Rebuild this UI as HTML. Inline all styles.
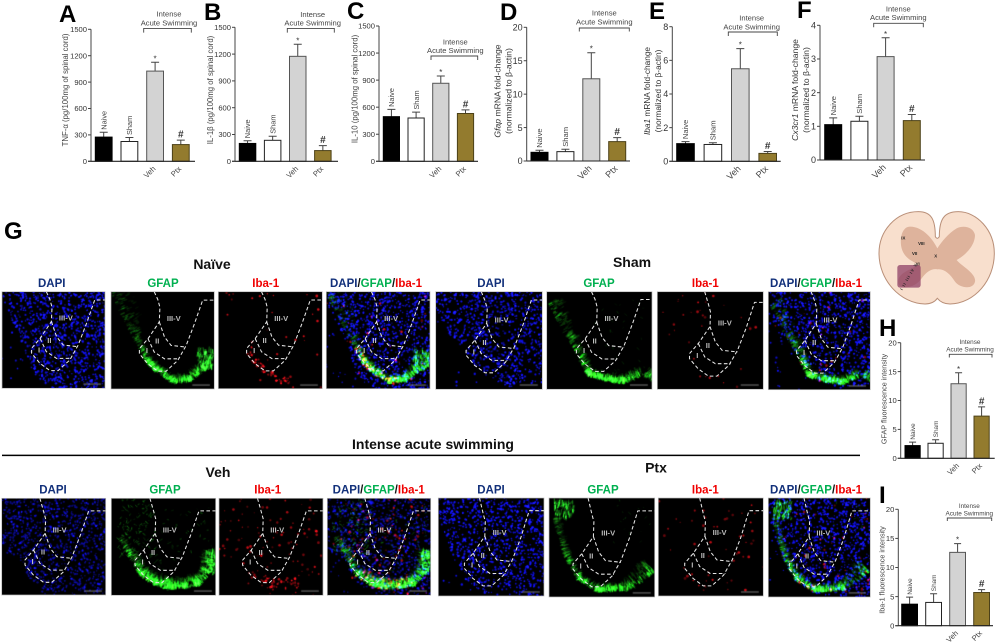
<!DOCTYPE html>
<html lang="en">
<head>
<meta charset="utf-8">
<title>Intense acute swimming figure</title>
<style>
html,body{margin:0;padding:0;background:#fff;}
#figure{position:relative;width:996px;height:643px;overflow:hidden;background:#fff;font-family:"Liberation Sans",sans-serif;}
#micro-layer canvas{position:absolute;display:block;background:#000;filter:blur(.35px);}
#overlay{position:absolute;left:0;top:0;}
.letter{font:bold 24px "Liberation Sans",sans-serif;fill:#000;}
.ytitle{font-size:7.8px;fill:#444;}
.ytitle2{font-size:8.6px;fill:#333;}
.brk{font-size:7.6px;fill:#444;text-anchor:middle;}
.brk-s{font-size:6.4px;fill:#444;text-anchor:middle;}
.chan{font-size:11.5px;font-weight:bold;text-anchor:middle;}
.dapi{fill:#12307a;}.gfap{fill:#00b050;}.iba{fill:#f00000;}.slash{fill:#111;}
.head{font-size:14px;font-weight:bold;fill:#111;text-anchor:middle;}
</style>
</head>
<body>
<div id="figure">
<div id="micro-layer"></div>
<svg id="overlay" width="996" height="643" viewBox="0 0 996 643">
  <g id="letters">
    <text class="letter" x="59" y="22">A</text>
    <text class="letter" x="204" y="20">B</text>
    <text class="letter" x="347" y="19">C</text>
    <text class="letter" x="500" y="20">D</text>
    <text class="letter" x="649" y="19">E</text>
    <text class="letter" x="797" y="18">F</text>
    <text class="letter" x="4" y="239">G</text>
    <text class="letter" x="879" y="336">H</text>
    <text class="letter" x="879" y="503">I</text>
  </g>

  <g id="y-titles">
    <text class="ytitle" text-anchor="middle" transform="translate(68,90) rotate(-90)">TNF-α (pg/100mg of spinal cord)</text>
    <text class="ytitle" text-anchor="middle" transform="translate(213,90) rotate(-90)">IL-1β (pg/100mg of spinal cord)</text>
    <text class="ytitle" text-anchor="middle" transform="translate(357.5,89) rotate(-90)">IL-10 (pg/100mg of spinal cord)</text>
    <text class="ytitle2" text-anchor="middle" transform="translate(500.5,91) rotate(-90)"><tspan font-style="italic">Gfap</tspan> mRNA fold-change</text>
    <text class="ytitle2" text-anchor="middle" transform="translate(511.5,91) rotate(-90)">(normalized to β-actin)</text>
    <text class="ytitle2" style="font-size:8.3px" text-anchor="middle" transform="translate(650,91) rotate(-90)"><tspan font-style="italic">Iba1</tspan> mRNA fold-change</text>
    <text class="ytitle2" style="font-size:8.3px" text-anchor="middle" transform="translate(661,91) rotate(-90)">(normalized to β-actin)</text>
    <text class="ytitle2" text-anchor="middle" transform="translate(798,90) rotate(-90)"><tspan font-style="italic">Cx3cr1</tspan> mRNA fold-change</text>
    <text class="ytitle2" text-anchor="middle" transform="translate(809,90) rotate(-90)">(normalized to β-actin)</text>
    <text class="ytitle" style="font-size:7.2px" text-anchor="middle" transform="translate(886.5,399) rotate(-90)">GFAP  fluorescence intensity</text>
    <text class="ytitle" style="font-size:7.2px" text-anchor="middle" transform="translate(884.5,570) rotate(-90)">Iba-1 fluorescence intensity</text>
  </g>

  <g id="brackets" fill="none" stroke="#444" stroke-width="0.9">
    <path d="M143.7,32.6V28.4H191.3V32.6"/>
    <path d="M287.3,32.6V28.4H334.3V32.6"/>
    <path d="M431,60V56H477.7V60"/>
    <path d="M579.3,31.5V28H629.3V31.5"/>
    <path d="M728.3,36V32H777.3V36"/>
    <path d="M873.7,27.3V23.3H923.3V27.3"/>
    <path d="M949.3,357.5V354.3H992V357.5"/>
    <path d="M947.3,521V518H991.7V521"/>
  </g>
  <g>
    <text class="brk" x="169" y="16.5">Intense</text>
    <text class="brk" x="169" y="25.3">Acute Swimming</text>
    <text class="brk" x="312.7" y="17">Intense</text>
    <text class="brk" x="312.7" y="25.6">Acute Swimming</text>
    <text class="brk" x="455.3" y="44.3">Intense</text>
    <text class="brk" x="455.3" y="53">Acute Swimming</text>
    <text class="brk" x="604.3" y="15.6">Intense</text>
    <text class="brk" x="604.3" y="24.3">Acute Swimming</text>
    <text class="brk" x="751.7" y="20.3">Intense</text>
    <text class="brk" x="751.7" y="29.3">Acute Swimming</text>
    <text class="brk" x="898.3" y="11.6">Intense</text>
    <text class="brk" x="898.3" y="20">Acute Swimming</text>
    <text class="brk-s" x="970" y="343.8">Intense</text>
    <text class="brk-s" x="970" y="351.5">Acute Swimming</text>
    <text class="brk-s" x="969.3" y="508">Intense</text>
    <text class="brk-s" x="969.3" y="515.3">Acute Swimming</text>
  </g>

  <g id="charts"></g>

  <g>
    <text class="head" x="212" y="269">Naïve</text>
    <text class="head" x="632" y="267">Sham</text>
    <text class="head" x="433" y="449" textLength="162" lengthAdjust="spacingAndGlyphs">Intense acute swimming</text>
    <line x1="2" y1="455.4" x2="860" y2="455.4" stroke="#000" stroke-width="1.5"/>
    <text class="head" x="218" y="477">Veh</text>
    <text class="head" x="656" y="472.5">Ptx</text>
  </g>

  <g>
    <text class="chan dapi" x="51.7" y="287">DAPI</text>
    <text class="chan gfap" x="163" y="287">GFAP</text>
    <text class="chan iba" x="265.7" y="287">Iba-1</text>
    <text class="chan" x="376" y="287"><tspan class="dapi">DAPI</tspan><tspan class="slash">/</tspan><tspan class="gfap">GFAP</tspan><tspan class="slash">/</tspan><tspan class="iba">Iba-1</tspan></text>
    <text class="chan dapi" x="491" y="287">DAPI</text>
    <text class="chan gfap" x="599" y="287">GFAP</text>
    <text class="chan iba" x="705.3" y="287">Iba-1</text>
    <text class="chan" x="816" y="287"><tspan class="dapi">DAPI</tspan><tspan class="slash">/</tspan><tspan class="gfap">GFAP</tspan><tspan class="slash">/</tspan><tspan class="iba">Iba-1</tspan></text>
    <text class="chan dapi" x="53" y="493.5">DAPI</text>
    <text class="chan gfap" x="165" y="493.5">GFAP</text>
    <text class="chan iba" x="267.7" y="493.5">Iba-1</text>
    <text class="chan" x="378.7" y="493.5"><tspan class="dapi">DAPI</tspan><tspan class="slash">/</tspan><tspan class="gfap">GFAP</tspan><tspan class="slash">/</tspan><tspan class="iba">Iba-1</tspan></text>
    <text class="chan dapi" x="491" y="493.5">DAPI</text>
    <text class="chan gfap" x="603" y="493.5">GFAP</text>
    <text class="chan iba" x="705.3" y="493.5">Iba-1</text>
    <text class="chan" x="816" y="493.5"><tspan class="dapi">DAPI</tspan><tspan class="slash">/</tspan><tspan class="gfap">GFAP</tspan><tspan class="slash">/</tspan><tspan class="iba">Iba-1</tspan></text>
  </g>

  <g id="panel-overlays"></g>

  <g transform="translate(860,190) scale(0.3333)">
    <path d="M226,140 C226,90 215,65 175,65 C110,65 57,120 57,190 C57,270 120,340 195,342 C215,342 225,335 232,325 C240,335 250,342 270,342 C345,340 403,270 403,190 C403,120 350,65 295,65 C250,65 238,90 238,140 Q232,150 226,140 Z" fill="#f8dfcd" stroke="#b98f78" stroke-width="3"/>
    <path d="M232,175 C220,150 190,110 150,110 C125,110 118,150 125,175 C135,210 165,215 175,225 C150,240 110,250 115,280 C120,300 165,295 185,265 C200,245 215,235 232,238 C250,235 270,250 285,275 C300,295 340,300 345,275 C350,250 300,225 290,210 C310,200 345,170 345,135 C340,110 310,105 290,115 C265,130 245,155 232,175 Z" fill="#deb39c"/>
    <rect x="112" y="225" width="70" height="68" rx="8" fill="#8a3a62" fill-opacity="0.72"/>
    <g font-family="Liberation Sans, sans-serif" font-size="13" font-weight="bold" fill="#222" text-anchor="middle">
      <text x="130" y="148">IX</text>
      <text x="184" y="165">VIII</text>
      <text x="164" y="195">VII</text>
      <text x="227" y="202">X</text>
      <text x="173" y="226">VI</text>
      <text transform="translate(150,262) rotate(-60)" font-size="12" letter-spacing="3">I II III IV V</text>
    </g>
  </g>
</svg>
</div>

<script>
/* ---------- chart data ---------- */
const categories = ['Naive', 'Sham', 'Veh', 'Ptx'];

const tnfTicks = [0, 300, 600, 900, 1200, 1500];
const tnfMeans = [275, 225, 1025, 190];
const tnfErrorTops = [330, 270, 1125, 240];

const il1Ticks = [0, 300, 600, 900, 1200, 1500];
const il1Means = [200, 235, 1175, 120];
const il1ErrorTops = [230, 280, 1310, 175];

const il10Ticks = [0, 300, 600, 900, 1200, 1500];
const il10Means = [495, 480, 865, 530];
const il10ErrorTops = [575, 545, 945, 570];

const gfapTicks = [0, 5, 10, 15, 20];
const gfapMeans = [1.3, 1.4, 12.3, 2.9];
const gfapErrorTops = [1.6, 1.75, 16.2, 3.5];

const iba1Ticks = [0, 2, 4, 6, 8];
const iba1Means = [1.05, 1.0, 5.5, 0.47];
const iba1ErrorTops = [1.17, 1.1, 6.7, 0.58];

const cx3cr1Ticks = [0, 1, 2, 3, 4];
const cx3cr1Means = [1.05, 1.15, 3.07, 1.17];
const cx3cr1ErrorTops = [1.25, 1.3, 3.63, 1.35];

const gfapFluoTicks = [0, 5, 10, 15, 20];
const gfapFluoMeans = [2.2, 2.6, 12.9, 7.3];
const gfapFluoErrorTops = [2.8, 3.2, 14.8, 8.9];

const ibaFluoTicks = [0, 5, 10, 15, 20];
const ibaFluoMeans = [3.7, 4.0, 12.6, 5.7];
const ibaFluoErrorTops = [4.9, 5.5, 14.1, 6.2];

/* ---------- chart layout ---------- */
const chartSpecs = [
  {id:'a', ticks:tnfTicks, means:tnfMeans, tops:tnfErrorTops, axisX:91, axisEnd:195, y0:161.3, yTop:29.3, firstBar:95.3, step:25.7, barW:16.8, tickFont:7.6, labelFont:7.4, cap:8},
  {id:'b', ticks:il1Ticks, means:il1Means, tops:il1ErrorTops, axisX:235, axisEnd:338, y0:161.3, yTop:27.3, firstBar:239.3, step:25.1, barW:16.5, tickFont:7.6, labelFont:7.4, cap:8},
  {id:'c', ticks:il10Ticks, means:il10Means, tops:il10ErrorTops, axisX:379, axisEnd:478, y0:161.3, yTop:26, firstBar:383.3, step:24.7, barW:16.2, tickFont:7.6, labelFont:7.4, cap:8},
  {id:'d', ticks:gfapTicks, means:gfapMeans, tops:gfapErrorTops, axisX:526.7, axisEnd:630, y0:161, yTop:27.3, firstBar:531, step:25.9, barW:17, tickFont:9, labelFont:7.6, cap:8},
  {id:'e', ticks:iba1Ticks, means:iba1Means, tops:iba1ErrorTops, axisX:672.3, axisEnd:780.7, y0:161.3, yTop:26.7, firstBar:676.7, step:27.4, barW:17.6, tickFont:9, labelFont:7.6, cap:8},
  {id:'f', ticks:cx3cr1Ticks, means:cx3cr1Means, tops:cx3cr1ErrorTops, axisX:820, axisEnd:925, y0:160, yTop:25.3, firstBar:824.7, step:26.2, barW:17, tickFont:9, labelFont:7.6, cap:8},
  {id:'h', ticks:gfapFluoTicks, means:gfapFluoMeans, tops:gfapFluoErrorTops, axisX:900.7, axisEnd:994.7, y0:458.3, yTop:342.7, firstBar:905, step:23, barW:15.2, tickFont:7.6, labelFont:6.4, cap:7},
  {id:'i', ticks:ibaFluoTicks, means:ibaFluoMeans, tops:ibaFluoErrorTops, axisX:898.3, axisEnd:993, y0:625.7, yTop:509.3, firstBar:901.7, step:24, barW:15.8, tickFont:7.6, labelFont:6.4, cap:7}
];
const barStyles = [
  {fill:'#000000', stroke:'#000000'},
  {fill:'#ffffff', stroke:'#222222'},
  {fill:'#d3d3d3', stroke:'#555555'},
  {fill:'#937b2e', stroke:'#4c4118'}
];

const SVGNS = 'http://www.w3.org/2000/svg';
function svgEl(tag, parent, attrs) {
  const el = document.createElementNS(SVGNS, tag);
  for (const k in attrs) el.setAttribute(k, attrs[k]);
  parent.appendChild(el);
  return el;
}

function drawChart(spec) {
  const root = document.getElementById('charts');
  const maxTick = spec.ticks[spec.ticks.length - 1];
  const yScale = v => spec.y0 - (v / maxTick) * (spec.y0 - spec.yTop);
  const xBand = i => spec.firstBar + i * spec.step;

  const g = svgEl('g', root, {});
  
  

  categories.forEach((cat, i) => {
    const x = xBand(i);
    const cx = x + spec.barW / 2;
    const yMean = yScale(spec.means[i]);
    const yErr = yScale(spec.tops[i]);

    const err = svgEl('path', g, {d:'M' + cx + ',' + yMean + 'V' + yErr + 'M' + (cx - spec.cap / 2) + ',' + yErr + 'H' + (cx + spec.cap / 2), fill:'none', stroke:'#444', 'stroke-width':1});
    
    

    const bar = svgEl('rect', g, {x:x, y:yMean, width:spec.barW, height:spec.y0 - yMean, fill:barStyles[i].fill, stroke:barStyles[i].stroke, 'stroke-width':1});
    
    

    if (i < 2) {
      const t = svgEl('text', g, {transform:'translate(' + (cx + spec.labelFont * 0.36) + ',' + (yErr - 2.5) + ') rotate(-90)', 'font-size':spec.labelFont, fill:'#444'});
      t.textContent = cat;
      
      
    } else {
      const t = svgEl('text', g, {transform:'translate(' + (cx + 1) + ',' + (spec.y0 + 8) + ') rotate(-45)', 'font-size':spec.tickFont, fill:'#444', 'text-anchor':'end'});
      t.textContent = cat;
      
      
      const mark = svgEl('text', g, {x:cx, y:yErr - (i === 2 ? 1 : 2.5), 'font-size':i === 2 ? 8 : 10, 'font-weight':i === 2 ? 'normal' : 'bold', fill:'#333', 'text-anchor':'middle'});
      mark.textContent = i === 2 ? '*' : '#';
      
      
    }
  });

  const yAxis = svgEl('line', g, {x1:spec.axisX, x2:spec.axisX, y1:yScale(maxTick), y2:spec.y0, stroke:'#444', 'stroke-width':1});
  
  

  const xAxis = svgEl('line', g, {x1:spec.axisX - 3, x2:spec.axisEnd, y1:spec.y0, y2:spec.y0, stroke:'#222', 'stroke-width':1.1});
  
  

  spec.ticks.forEach(v => {
    const y = yScale(v);
    const tk = svgEl('line', g, {x1:spec.axisX - 3, x2:spec.axisX, y1:y, y2:y, stroke:'#444', 'stroke-width':1});
    
    
    const lb = svgEl('text', g, {x:spec.axisX - 4, y:y + spec.tickFont * 0.36, 'font-size':spec.tickFont, fill:'#333', 'text-anchor':'end'});
    lb.textContent = String(v);
    
    
  });
}
chartSpecs.forEach(drawChart);

/* ---------- microscopy panels (procedural texture only, not chart data) ---------- */
const rowProfiles = {
  naive: {
    blue:[[0,.06],[.2,.53],[.3,.85],[.5,1.05],[1,1.05]], blueAlpha:1, blueCount:1150,
    band:[[0,.02,.2,.55],[.12,.30,.16,.42],[.25,.55,.06,.55],[.33,.72,.05,.85],[.42,.82,.05,1],[.6,.95,.05,1],[.78,.93,.06,.95],[.9,.82,.08,.75],[1,.78,.1,.65]],
    tufts:[[.91,.72,.08,.1,110,.65]], scatter:[],
    red:{free:34, band:55, alpha:.95}
  },
  sham: {
    blue:[[0,.2],[.1,.4],[.28,.62],[.4,.8],[.5,.9],[.7,.98],[1,.95]], blueAlpha:1, blueCount:1050,
    band:[[0,.12,.14,.65],[.16,.43,.1,.55],[.285,.66,.08,.7],[.38,.87,.05,.95],[.55,.92,.05,1],[.73,.955,.06,.95],[.92,.87,.09,.7],[1,.93,.12,.6]],
    tufts:[], scatter:[[.45,.02,.95,.85,30,.25]],
    red:{free:30, band:5, alpha:.85}
  },
  veh: {
    blue:[[0,.55],[.16,.62],[.27,.85],[.5,1],[1,1]], blueAlpha:.62, blueCount:1100,
    band:[[.06,.42,.05,.4],[.16,.6,.07,.7],[.27,.81,.09,.95],[.4,.9,.09,1],[.53,.95,.09,1],[.7,.94,.09,1],[.85,.91,.09,.95],[.96,.78,.1,.9],[1,.55,.1,.85]],
    tufts:[[.95,.68,.05,.12,70,.7]], scatter:[[.06,.02,.42,.6,130,.55],[.4,.1,.95,.75,50,.4]],
    red:{free:120, band:45, alpha:.85}
  },
  ptx: {
    blue:[[0,.1],[.04,.3],[.14,.6],[.26,.83],[.45,.98],[1,1]], blueAlpha:1, blueCount:1050,
    band:[[.03,.2,.05,.5],[.09,.42,.04,.45],[.14,.6,.05,.7],[.26,.83,.05,.85],[.45,.955,.04,1],[.62,.95,.06,.8],[.77,.94,.09,.75],[.95,.8,.14,.7],[1,.75,.14,.7]],
    tufts:[[.14,.14,.09,.09,100,.65]], scatter:[[.6,.02,.95,.45,16,.3]],
    red:{free:50, band:8, alpha:.9}
  }
};

const panels = [
  {row:'naive', kind:'dapi',  x:2,     y:291.7, w:103,   h:96.6, dx:0,    dy:0,   fy:.086},
  {row:'naive', kind:'gfap',  x:111,   y:291.7, w:103.3, h:97.3, dx:-.012,dy:0,   fy:.086},
  {row:'naive', kind:'iba',   x:218.3, y:291.7, w:104,   h:97,   dx:-.015,dy:0,   fy:.086},
  {row:'naive', kind:'merge', x:326.3, y:291.7, w:103.7, h:97,   dx:.005, dy:0,   fy:.086},
  {row:'sham',  kind:'dapi',  x:435.7, y:291.7, w:106.6, h:97.6, dx:-.002,dy:.014,fy:.085},
  {row:'sham',  kind:'gfap',  x:546.7, y:291.7, w:105.3, h:97.6, dx:-.005,dy:0,   fy:.08},
  {row:'sham',  kind:'iba',   x:657.3, y:291.7, w:106,   h:97.6, dx:.017, dy:.048,fy:.11},
  {row:'sham',  kind:'merge', x:768.3, y:291.7, w:102,   h:98,   dx:-.01, dy:.014,fy:.085},
  {row:'veh',   kind:'dapi',  x:1.7,   y:498.3, w:104,   h:96.7, dx:-.063,dy:.052,fy:.13},
  {row:'veh',   kind:'gfap',  x:111.3, y:498.3, w:104.4, h:97,   dx:-.06, dy:.052,fy:.13},
  {row:'veh',   kind:'iba',   x:219,   y:498.3, w:104,   h:97,   dx:-.06, dy:.052,fy:.13},
  {row:'veh',   kind:'merge', x:327.3, y:498.3, w:103.4, h:97,   dx:-.067,dy:.052,fy:.13},
  {row:'ptx',   kind:'dapi',  x:438.3, y:498,   w:105.7, h:98,   dx:-.04, dy:.08, fy:.13},
  {row:'ptx',   kind:'gfap',  x:549,   y:498,   w:105.7, h:99,   dx:-.06, dy:.08, fy:.13},
  {row:'ptx',   kind:'iba',   x:658.3, y:498,   w:105,   h:98,   dx:-.036,dy:.08, fy:.13},
  {row:'ptx',   kind:'merge', x:768.3, y:498,   w:102,   h:99,   dx:-.08, dy:.08, fy:.13}
];

function seededRandom(seed) {
  let a = seed >>> 0;
  return function () {
    a = (a + 0x6D2B79F5) >>> 0;
    let t = a;
    t = Math.imul(t ^ (t >>> 15), t | 1);
    t ^= t + Math.imul(t ^ (t >>> 7), t | 61);
    return ((t ^ (t >>> 14)) >>> 0) / 4294967296;
  };
}
function edgeY(poly, x) {
  for (let i = 0; i < poly.length - 1; i++) {
    if (x <= poly[i + 1][0]) {
      const f = (x - poly[i][0]) / Math.max(1e-6, poly[i + 1][0] - poly[i][0]);
      return poly[i][1] + Math.max(0, f) * (poly[i + 1][1] - poly[i][1]);
    }
  }
  return poly[poly.length - 1][1];
}
function paintBlue(ctx, w, h, prof, rand) {
  for (let i = 0; i < prof.blueCount; i++) {
    const x = rand(), y = rand();
    if (y > edgeY(prof.blue, x) && rand() > 0.04) continue;
    const r = 0.6 + rand() * 0.6;
    const b = Math.round((190 + rand() * 65) * prof.blueAlpha);
    ctx.fillStyle = 'rgb(' + Math.round(b * .06) + ',' + Math.round(b * .06) + ',' + b + ')';
    ctx.beginPath();
    ctx.arc(x * w, y * h, r, 0, 6.3);
    ctx.fill();
  }
}
function bandPoint(band, t, w, h) {
  const f = Math.min(band.length - 1.001, t * (band.length - 1));
  const i = Math.floor(f), k = f - i;
  const a = band[i], b = band[i + 1];
  const tx = (b[0] - a[0]) * w, ty = (b[1] - a[1]) * h;
  const len = Math.hypot(tx, ty) || 1;
  return {
    x:(a[0] + k * (b[0] - a[0])) * w,
    y:(a[1] + k * (b[1] - a[1])) * h,
    th:(a[2] + k * (b[2] - a[2])) * w,
    br:a[3] + k * (b[3] - a[3]),
    nx:ty / len, ny:-tx / len
  };
}
function paintGreen(ctx, w, h, prof, rand) {
  for (let i = 0; i < 1000; i++) {
    const p = bandPoint(prof.band, rand(), w, h);
    if (rand() > p.br) continue;
    const depth = Math.pow(rand(), 1.4) * p.th;
    const len = 1.5 + rand() * 4;
    const a = p.br * (1 - 0.75 * depth / p.th) * (.2 + rand() * .5);
    ctx.strokeStyle = 'rgba(' + Math.round(15 + rand() * 35) + ',225,' + Math.round(15 + rand() * 25) + ',' + a.toFixed(3) + ')';
    ctx.lineWidth = .7 + rand() * .7;
    const jx = (rand() - .5) * 1.5, jy = (rand() - .5) * 1.5;
    ctx.beginPath();
    ctx.moveTo(p.x + p.nx * depth + jx, p.y + p.ny * depth + jy);
    ctx.lineTo(p.x + p.nx * (depth + len) + jx, p.y + p.ny * (depth + len) + jy);
    ctx.stroke();
  }
  prof.tufts.forEach(t => {
    for (let i = 0; i < t[4]; i++) {
      const x = t[0] + (rand() * 2 - 1) * t[2], y = t[1] + (rand() * 2 - 1) * t[3];
      ctx.strokeStyle = 'rgba(40,235,40,' + (t[5] * (.3 + rand() * .6)).toFixed(3) + ')';
      ctx.lineWidth = .7 + rand() * .5;
      ctx.beginPath();
      ctx.moveTo(x * w, y * h);
      ctx.lineTo(x * w + (rand() - .3) * 2.5, y * h - 2 - rand() * 4);
      ctx.stroke();
    }
  });
  prof.scatter.forEach(s => {
    for (let i = 0; i < s[4]; i++) {
      const x = s[0] + rand() * (s[2] - s[0]), y = s[1] + rand() * (s[3] - s[1]);
      ctx.strokeStyle = 'rgba(30,200,30,' + (s[5] * (.3 + rand() * .7)).toFixed(3) + ')';
      ctx.lineWidth = .9;
      ctx.beginPath();
      ctx.moveTo(x * w, y * h);
      ctx.lineTo(x * w + (rand() - .5) * 6, y * h + (rand() - .5) * 6);
      ctx.stroke();
    }
  });
}
function paintRed(ctx, w, h, prof, rand) {
  const spot = (x, y, a) => {
    ctx.fillStyle = 'rgba(240,15,25,' + a.toFixed(3) + ')';
    ctx.beginPath();
    ctx.arc(x, y, .55 + rand() * .85, 0, 6.3);
    ctx.fill();
  };
  for (let i = 0; i < prof.red.free; i++) {
    const x = rand(), y = rand();
    if (y > edgeY(prof.blue, x) + .03) continue;
    spot(x * w, y * h, prof.red.alpha * (.35 + rand() * .65));
  }
  for (let i = 0; i < prof.red.band; i++) {
    const p = bandPoint(prof.band, .28 + rand() * .42, w, h);
    const depth = rand() * p.th * 1.2;
    spot(p.x + p.nx * depth, p.y + p.ny * depth, prof.red.alpha * (.4 + rand() * .6));
  }
}

const layer = document.getElementById('micro-layer');
const overlays = document.getElementById('panel-overlays');
panels.forEach((pn, idx) => {
  const base = pn.row + '-' + pn.kind;
  const cv = document.createElement('canvas');
  cv.width = Math.round(pn.w);
  cv.height = Math.round(pn.h);
  cv.style.left = pn.x + 'px';
  cv.style.top = pn.y + 'px';
  cv.style.width = pn.w + 'px';
  cv.style.height = pn.h + 'px';
  
  
  layer.appendChild(cv);

  const ctx = cv.getContext('2d');
  const prof = rowProfiles[pn.row];
  ctx.fillStyle = '#000';
  ctx.fillRect(0, 0, cv.width, cv.height);
  ctx.globalCompositeOperation = 'lighter';
  const rand = seededRandom(1000 + idx * 37);
  if (pn.kind === 'dapi' || pn.kind === 'merge') paintBlue(ctx, cv.width, cv.height, prof, rand);
  if (pn.kind === 'gfap' || pn.kind === 'merge') paintGreen(ctx, cv.width, cv.height, prof, rand);
  if (pn.kind === 'iba' || pn.kind === 'merge') paintRed(ctx, cv.width, cv.height, prof, rand);
  ctx.globalCompositeOperation = 'source-over';
  ctx.fillStyle = '#9a9a9a';
  ctx.fillRect(cv.width * .79, cv.height * .955, cv.width * .17, .8);

  const px = (nx) => pn.x + (nx + pn.dx) * pn.w;
  const py = (ny) => pn.y + (ny + pn.dy) * pn.h;
  const polyline = pts => pts.map((p, i) => (i ? 'L' : 'M') + px(p[0]).toFixed(1) + ',' + py(p[1]).toFixed(1)).join('');
  const flatY = pn.y + pn.fy * pn.h;
  const flatX = Math.min(pn.x + pn.w, px(.90));

  const g = svgEl('g', overlays, {fill:'none', stroke:'#e6e6e6', 'stroke-width':1.05, 'stroke-dasharray':'3.6 2.4', 'stroke-linejoin':'round'});
  
  

  const outer = svgEl('path', g, {d:
    'M' + px(.43).toFixed(1) + ',' + pn.y.toFixed(1) +
    polyline([[.465,.08],[.485,.16],[.48,.31],[.37,.483],[.287,.586],[.287,.638],[.368,.741],[.465,.817],[.545,.817],[.658,.707],[.74,.552],[.82,.328]]).replace(/^M/, 'L') +
    'L' + flatX.toFixed(1) + ',' + flatY.toFixed(1) + 'L' + (pn.x + pn.w).toFixed(1) + ',' + flatY.toFixed(1)});
  
  

  const inner1 = svgEl('path', g, {d:polyline([[.48,.31],[.53,.466],[.594,.552],[.74,.569]])});
  
  

  const inner2 = svgEl('path', g, {d:polyline([[.37,.483],[.43,.62],[.53,.69],[.675,.69]])});
  
  

  const labels = [['III-V', .62, .3], ['II', .46, .53], ['I', .36, .63]];
  labels.forEach(lb => {
    const t = svgEl('text', overlays, {x:px(lb[1]), y:py(lb[2]), 'font-size':7.6, 'font-weight':'bold', fill:'#bdbdbd', 'text-anchor':'middle'});
    t.textContent = lb[0];
    
    
  });

  const border = svgEl('rect', overlays, {x:pn.x, y:pn.y, width:pn.w, height:pn.h, fill:'none', stroke:'#bbbbbb', 'stroke-width':.7});
  
  
});
</script>
</body>
</html>
